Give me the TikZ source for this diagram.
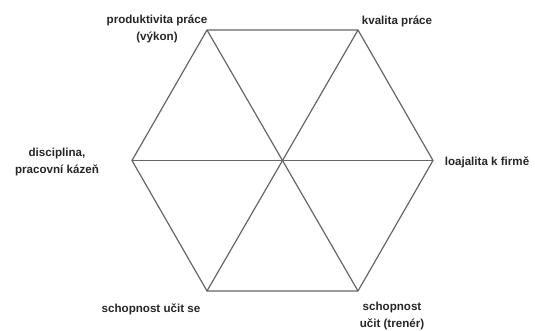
\documentclass[tikz,border=0pt]{standalone}
\usepackage{fontspec}
\setmainfont{Liberation Sans}
\begin{document}
\begin{tikzpicture}[x=1pt,y=-1pt,
  edge/.style={draw=black!60, line width=1.2pt},
  lbl/.style={font=\bfseries\fontsize{11.6}{17}\selectfont, align=center, inner sep=0pt, text=black!85}]
\useasboundingbox (0,0) rectangle (535,330);
\coordinate (c) at (282.5,160.5);
\coordinate (tl) at (207,30);
\coordinate (tr) at (358,30);
\coordinate (r) at (433,160.5);
\coordinate (br) at (358,291);
\coordinate (bl) at (207,291);
\coordinate (l) at (132,160.5);
\draw[edge] (tl) -- (tr) -- (r) -- (br) -- (bl) -- (l) -- cycle;
\draw[edge] (tl) -- (br);
\draw[edge] (tr) -- (bl);
\draw[edge] (l) -- (r);
\node[lbl] (n1) at (157,29) {produktivita práce\\(výkon)};
\node[lbl] (n2) at (397,21) {kvalita práce};
\node[lbl] (n3) at (57,162) {disciplina,\\pracovní kázeň};
\node[lbl] (n4) at (487,162) {loajalita k firmě};
\node[lbl] (n5) at (151,309) {schopnost učit se};
\node[lbl] (n6) at (392,316) {schopnost\\učit (trenér)};
\end{tikzpicture}
\end{document}
